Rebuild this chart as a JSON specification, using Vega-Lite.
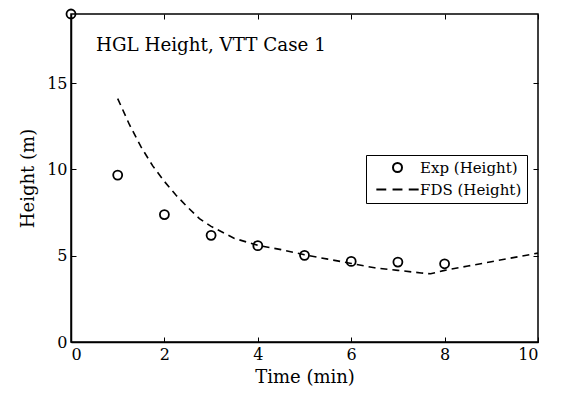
{
  "$schema": "https://vega.github.io/schema/vega-lite/v6.json",
  "width": 467,
  "height": 328,
  "autosize": {"type": "none"},
  "padding": {"left": 71, "top": 14, "right": 24, "bottom": 52},
  "background": "white",
  "config": {
    "font": "DejaVu Serif",
    "view": {"stroke": "black", "strokeWidth": 1.5},
    "axis": {
      "domainColor": "black",
      "domainWidth": 1.5,
      "tickColor": "black",
      "tickWidth": 1,
      "tickSize": -5,
      "grid": false,
      "labelFont": "DejaVu Serif",
      "labelFontSize": 16,
      "labelColor": "black",
      "titleFont": "DejaVu Serif",
      "titleFontSize": 18,
      "titleFontWeight": "normal",
      "titleColor": "black"
    }
  },
  "datasets": {
    "exp": [
      {"t": 0, "h": 19.0, "series": "Exp (Height)"},
      {"t": 1, "h": 9.67, "series": "Exp (Height)"},
      {"t": 2, "h": 7.38, "series": "Exp (Height)"},
      {"t": 3, "h": 6.18, "series": "Exp (Height)"},
      {"t": 4, "h": 5.58, "series": "Exp (Height)"},
      {"t": 5, "h": 5.02, "series": "Exp (Height)"},
      {"t": 6, "h": 4.67, "series": "Exp (Height)"},
      {"t": 7, "h": 4.63, "series": "Exp (Height)"},
      {"t": 8, "h": 4.53, "series": "Exp (Height)"}
    ],
    "fds": [
      {"t": 1, "h": 14.1},
      {"t": 1.25, "h": 12.6},
      {"t": 1.5, "h": 11.3},
      {"t": 1.75, "h": 10.2},
      {"t": 2, "h": 9.3},
      {"t": 2.25, "h": 8.5},
      {"t": 2.5, "h": 7.8},
      {"t": 2.75, "h": 7.15},
      {"t": 3, "h": 6.7},
      {"t": 3.5, "h": 6.0},
      {"t": 4, "h": 5.6},
      {"t": 4.5, "h": 5.35},
      {"t": 5, "h": 5.05},
      {"t": 5.5, "h": 4.8},
      {"t": 6, "h": 4.55},
      {"t": 6.5, "h": 4.3},
      {"t": 7, "h": 4.15},
      {"t": 7.5, "h": 4.0},
      {"t": 7.7, "h": 3.95},
      {"t": 8, "h": 4.15},
      {"t": 8.5, "h": 4.4},
      {"t": 9, "h": 4.65},
      {"t": 9.5, "h": 4.9},
      {"t": 10, "h": 5.15}
    ],
    "note": [
      {"label": "HGL Height, VTT Case 1", "t": 0.535, "h": 16.86}
    ]
  },
  "layer": [
    {
      "data": {"name": "fds"},
      "mark": {"type": "line", "color": "black", "strokeWidth": 1.6, "strokeDash": [7, 5]},
      "encoding": {
        "x": {
          "field": "t", "type": "quantitative",
          "scale": {"domain": [0, 10], "nice": false, "zero": false},
          "axis": {"orient": "bottom", "values": [0, 2, 4, 6, 8, 10], "labelPadding": 9, "title": "Time (min)", "titlePadding": 6}
        },
        "y": {
          "field": "h", "type": "quantitative",
          "scale": {"domain": [0, 19], "nice": false, "zero": false},
          "axis": {"orient": "left", "values": [0, 5, 10, 15], "labelPadding": 9, "title": "Height (m)", "titlePadding": 9}
        }
      }
    },
    {
      "data": {"name": "exp"},
      "mark": {"type": "point", "filled": false, "color": "black", "strokeWidth": 1.8, "size": 81, "opacity": 1, "clip": false},
      "encoding": {
        "x": {
          "field": "t", "type": "quantitative",
          "axis": {"orient": "top", "values": [0, 2, 4, 6, 8, 10], "labels": false, "title": null, "domain": false}
        },
        "y": {
          "field": "h", "type": "quantitative",
          "axis": {"orient": "right", "values": [0, 5, 10, 15], "labels": false, "title": null, "domain": false}
        },
        "shape": {
          "field": "series", "type": "nominal",
          "scale": {
            "domain": ["Exp (Height)", "FDS (Height)"],
            "range": ["circle", "M-4.7,0H-2.5M-1.1,0H1.1M2.5,0H4.7"]
          },
          "legend": {
            "title": null,
            "orient": "none",
            "legendX": 295,
            "legendY": 141,
            "direction": "vertical",
            "fillColor": "white",
            "strokeColor": "black",
            "padding": 5,
            "labelFont": "DejaVu Serif",
            "labelFontSize": 15,
            "labelColor": "black",
            "symbolOffset": 19,
            "labelOffset": 15,
            "symbolSize": 81,
            "symbolStrokeColor": "black",
            "symbolFillColor": "transparent",
            "symbolStrokeWidth": 2,
            "rowPadding": 6
          }
        }
      }
    },
    {
      "data": {"name": "note"},
      "mark": {"type": "text", "align": "left", "baseline": "alphabetic", "font": "DejaVu Serif", "fontSize": 18.3, "color": "black"},
      "encoding": {
        "x": {"field": "t", "type": "quantitative", "axis": null},
        "y": {"field": "h", "type": "quantitative", "axis": null},
        "text": {"field": "label"}
      }
    }
  ],
  "resolve": {"axis": {"x": "independent", "y": "independent"}}
}
